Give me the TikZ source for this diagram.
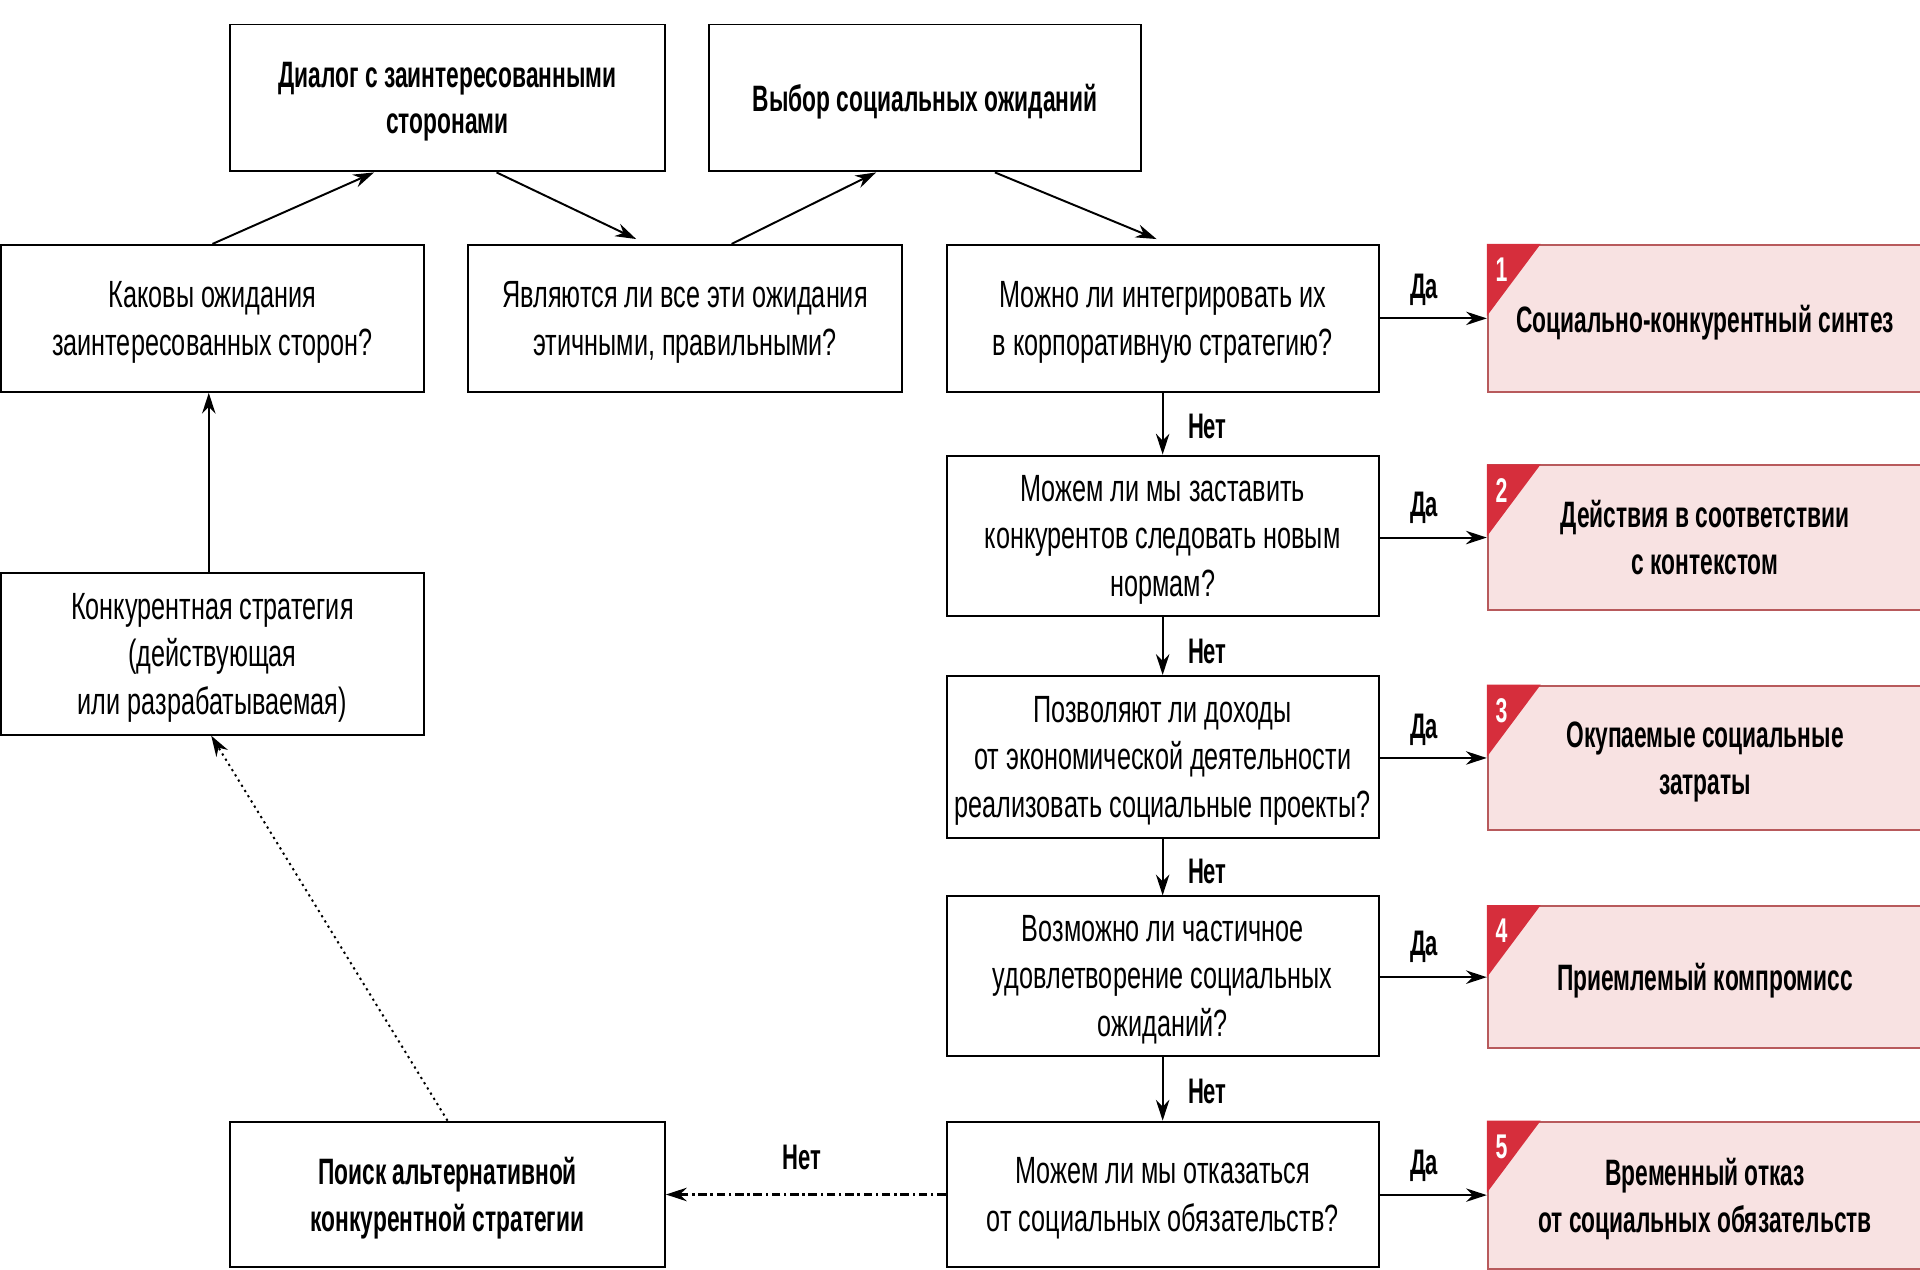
\documentclass[tikz,border=0pt]{standalone}
\usepackage{fontspec}
\setmainfont{Liberation Sans}
\newfontfamily\rgf{Liberation Sans}[FakeStretch=0.665]
\newfontfamily\bdf{Liberation Sans}[FakeStretch=0.62]
\usetikzlibrary{arrows.meta,calc}
\definecolor{redfill}{HTML}{F8E2E2}
\definecolor{redline}{HTML}{B85A5C}
\definecolor{redtri}{HTML}{D62E3C}
\tikzset{
  qbox/.style={draw, line width=1.6pt, align=center, inner sep=0pt, text depth=-2pt,
    font=\rgf\fontsize{31}{39}\selectfont},
  bbox/.style={draw, line width=1.6pt, align=center, inner sep=0pt, text depth=-2pt,
    font=\bdf\bfseries\fontsize{30}{38}\selectfont},
  rbox/.style={draw=redline, fill=redfill, line width=1.6pt, align=center, inner sep=0pt, text depth=-2pt,
    font=\bdf\bfseries\fontsize{30}{38}\selectfont},
  arr/.style={-{Stealth[length=17pt,width=11pt]}, line width=1.6pt},
  lbl/.style={font=\bdf\bfseries\fontsize{29}{34}\selectfont, inner sep=0pt},
  num/.style={font=\bdf\bfseries\fontsize{28}{30}\selectfont, text=white, inner sep=0pt},
}
\begin{document}
\begin{tikzpicture}[x=1pt,y=-1pt]
\useasboundingbox (0,0) rectangle (1568,1037);
% top row
\node[bbox, minimum width=355pt, minimum height=120pt] (D1) at (365.5,80) {Диалог с заинтересованными\\сторонами};
\node[bbox, minimum width=353pt, minimum height=120pt] (D2) at (755.5,80) {Выбор социальных ожиданий};
% second row
\node[qbox, minimum width=345pt, minimum height=120pt] (A) at (173.5,260) {Каковы ожидания\\заинтересованных сторон?};
\node[qbox, minimum width=355pt, minimum height=120pt] (B) at (559.5,260) {Являются ли все эти ожидания\\этичными, правильными?};
\node[qbox, minimum width=353pt, minimum height=120pt] (Q1) at (949.5,260) {Можно ли интегрировать их\\в корпоративную стратегию?};
\node[qbox, minimum width=353pt, minimum height=131pt] (Q2) at (949.5,437.5) {Можем ли мы заставить\\конкурентов следовать новым\\нормам?};
\node[qbox, minimum width=353pt, minimum height=132pt] (Q3) at (949.5,618) {Позволяют ли доходы\\от экономической деятельности\\реализовать социальные проекты?};
\node[qbox, minimum width=353pt, minimum height=130pt] (Q4) at (949.5,797) {Возможно ли частичное\\удовлетворение социальных\\ожиданий?};
\node[qbox, minimum width=353pt, minimum height=119pt] (Q5) at (949.5,975.5) {Можем ли мы отказаться\\от социальных обязательств?};
% left column
\node[qbox, minimum width=345pt, minimum height=132pt] (C) at (173.5,534) {Конкурентная стратегия\\(действующая\\или разрабатываемая)};
\node[bbox, minimum width=355pt, minimum height=119pt] (P) at (365.5,975.5) {Поиск альтернативной\\конкурентной стратегии};
% result boxes
\node[rbox, minimum width=355pt, minimum height=120pt] (R1) at (1392.5,260) {Социально-конкурентный синтез};
\node[rbox, minimum width=355pt, minimum height=118pt] (R2) at (1392.5,439) {Действия в соответствии\\с контекстом};
\node[rbox, minimum width=355pt, minimum height=118pt] (R3) at (1392.5,619) {Окупаемые социальные\\затраты};
\node[rbox, minimum width=355pt, minimum height=116pt] (R4) at (1392.5,798) {Приемлемый компромисс};
\node[rbox, minimum width=355pt, minimum height=120pt] (R5) at (1392.5,976) {Временный отказ\\от социальных обязательств};
% red corner triangles and numbers
\foreach \r/\n in {R1/1,R2/2,R3/3,R4/4,R5/5}{
  \fill[redtri] (\r.north west) -- ++(44,0) -- ++(-44,59) -- cycle;
  \node[num] (n\n) at ($(\r.north west)+(12,21)$) {\n};
}
% top arrows
\draw[arr] (A.north) -- ([xshift=-60pt]D1.south);
\draw[arr] ([xshift=40pt]D1.south) -- ([xshift=-40pt,yshift=4pt]B.north);
\draw[arr] ([xshift=38pt]B.north) -- ([xshift=-40pt]D2.south);
\draw[arr] ([xshift=57pt]D2.south) -- ([xshift=-5pt,yshift=4pt]Q1.north);
% left arrows
\draw[arr] ([xshift=-3pt]C.north) -- ([xshift=-3pt]A.south);
\draw[arr, dash pattern=on 1.8pt off 3.2pt, line width=1.6pt] (P.north) -- ([xshift=-1pt]C.south);
\draw[arr, dash pattern=on 7pt off 3pt on 2pt off 3pt, line width=1.8pt] (Q5.west) -- (P.east);
\node[lbl] (lP) at (655,945) {Нет};
% vertical Net arrows
\draw[arr] (Q1.south) -- (Q2.north);
\draw[arr] (Q2.south) -- (Q3.north);
\draw[arr] (Q3.south) -- (Q4.north);
\draw[arr] (Q4.south) -- (Q5.north);
\node[lbl] (l1) at (986,348) {Нет};
\node[lbl] (l2) at (986,532) {Нет};
\node[lbl] (l3) at (986,712) {Нет};
\node[lbl] (l4) at (986,891) {Нет};
% horizontal Da arrows
\draw[arr] (Q1.east |- R1.west) -- (R1.west);
\draw[arr] (Q2.east |- R2.west) -- (R2.west);
\draw[arr] (Q3.east |- R3.west) -- (R3.west);
\draw[arr] (Q4.east |- R4.west) -- (R4.west);
\draw[arr] (Q5.east |- R5.west) -- (R5.west);
\node[lbl] (d1) at (1163,237) {Да};
\node[lbl] (d2) at (1163,415) {Да};
\node[lbl] (d3) at (1163,596) {Да};
\node[lbl] (d4) at (1163,773) {Да};
\node[lbl] (d5) at (1163,952) {Да};
\end{tikzpicture}
\end{document}
